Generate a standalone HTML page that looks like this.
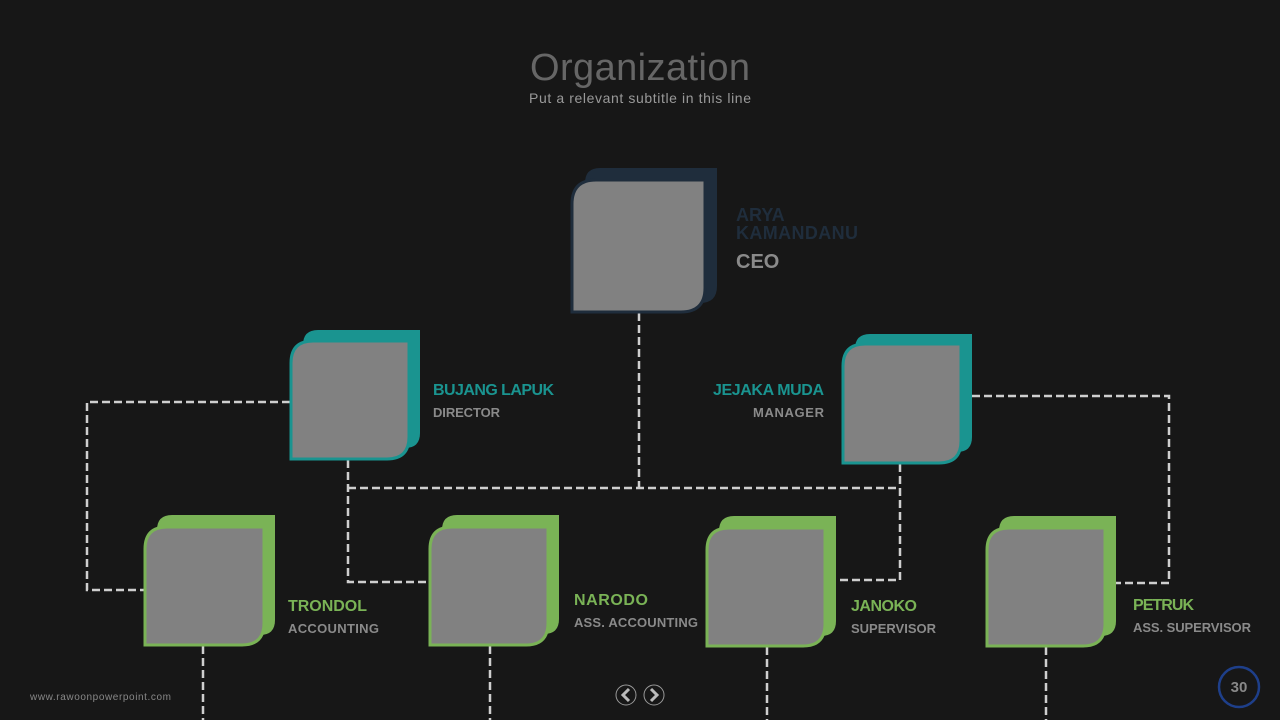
<!DOCTYPE html>
<html><head><style>html,body{margin:0;padding:0;background:#171717;}svg{display:block}</style></head><body>
<svg width="1280" height="720" viewBox="0 0 1280 720" xmlns="http://www.w3.org/2000/svg" font-family="Liberation Sans, sans-serif">
<rect width="1280" height="720" fill="#171717"/>
<text x="640" y="80" text-anchor="middle" font-size="38" fill="#666" textLength="220">Organization</text>
<text x="640" y="103" text-anchor="middle" font-size="14" fill="#999" textLength="222">Put a relevant subtitle in this line</text>
<g stroke="#cfcfcf" stroke-width="2.5" stroke-dasharray="8,4" fill="none">
<path d="M639 313V488M348 488H900M348 460V582H429M900 464V580H826"/>
<path d="M290 402H87V590H144M972 396H1169V583H1106"/>
<path d="M203 646V720M490 646V720M767 647V720M1046 647V720"/>
</g>
<g>
<path d="M600 168H717V286Q717 303 700 303H585V183Q585 168 600 168Z" fill="#1f2d3c"/>
<path d="M596 180H705V288Q705 312 681 312H572V204Q572 180 596 180Z" fill="#818181" stroke="#1f2d3c" stroke-width="3"/>
<path d="M318 330H420V433Q420 448 405 448H303V345Q303 330 318 330Z" fill="#1a9490"/>
<path d="M313 341H409V437Q409 459 387 459H291V363Q291 341 313 341Z" fill="#818181" stroke="#1a9490" stroke-width="3"/>
<path d="M870 334H972V437Q972 452 957 452H855V349Q855 334 870 334Z" fill="#1a9490"/>
<path d="M865 344H961V441Q961 463 939 463H843V366Q843 344 865 344Z" fill="#818181" stroke="#1a9490" stroke-width="3"/>
<path d="M172 515H275V620Q275 635 260 635H157V530Q157 515 172 515Z" fill="#7ab356"/>
<path d="M167 527H264V623Q264 645 242 645H145V549Q145 527 167 527Z" fill="#818181" stroke="#7ab356" stroke-width="3"/>
<path d="M457 515H559V619Q559 634 544 634H442V530Q442 515 457 515Z" fill="#7ab356"/>
<path d="M452 527H548V623Q548 645 526 645H430V549Q430 527 452 527Z" fill="#818181" stroke="#7ab356" stroke-width="3"/>
<path d="M734 516H836V621Q836 636 821 636H719V531Q719 516 734 516Z" fill="#7ab356"/>
<path d="M729 528H825V624Q825 646 803 646H707V550Q707 528 729 528Z" fill="#818181" stroke="#7ab356" stroke-width="3"/>
<path d="M1014 516H1116V621Q1116 636 1101 636H999V531Q999 516 1014 516Z" fill="#7ab356"/>
<path d="M1009 528H1105V624Q1105 646 1083 646H987V550Q987 528 1009 528Z" fill="#818181" stroke="#7ab356" stroke-width="3"/>
</g>
<g font-weight="bold">
<text x="736" y="221" font-size="18" fill="#1f2d3c">ARYA</text>
<text x="736" y="239" font-size="18" fill="#1f2d3c" textLength="122">KAMANDANU</text>
<text x="736" y="268" font-size="20" fill="#8a8a8a">CEO</text>
<text x="433" y="395" font-size="16" fill="#1a9490" textLength="121">BUJANG LAPUK</text>
<text x="433" y="417" font-size="13" fill="#8a8a8a" textLength="67">DIRECTOR</text>
<text x="713" y="395" font-size="16" fill="#1a9490" textLength="111">JEJAKA MUDA</text>
<text x="753" y="417" font-size="13" fill="#8a8a8a" textLength="71">MANAGER</text>
<text x="288" y="611" font-size="16" fill="#7ab356" textLength="79">TRONDOL</text>
<text x="288" y="633" font-size="13" fill="#8a8a8a" textLength="91">ACCOUNTING</text>
<text x="574" y="605" font-size="16" fill="#7ab356" textLength="74">NARODO</text>
<text x="574" y="627" font-size="13" fill="#8a8a8a" textLength="124">ASS. ACCOUNTING</text>
<text x="851" y="611" font-size="16" fill="#7ab356" textLength="66">JANOKO</text>
<text x="851" y="633" font-size="13" fill="#8a8a8a" textLength="85">SUPERVISOR</text>
<text x="1133" y="610" font-size="16" fill="#7ab356" textLength="61">PETRUK</text>
<text x="1133" y="632" font-size="13" fill="#8a8a8a" textLength="118">ASS. SUPERVISOR</text>
</g>
<text x="30" y="700" font-size="10" fill="#888" textLength="141">www.rawoonpowerpoint.com</text>
<circle cx="626" cy="695" r="10" fill="none" stroke="#999" stroke-width="1"/>
<circle cx="654" cy="695" r="10" fill="none" stroke="#999" stroke-width="1"/>
<path d="M629 689L623 695L629 701" fill="none" stroke="#bbb" stroke-width="3"/>
<path d="M651 689L657 695L651 701" fill="none" stroke="#bbb" stroke-width="3"/>
<circle cx="1239" cy="687" r="20" fill="none" stroke="#1e3f8a" stroke-width="2.5"/>
<text x="1239" y="692" text-anchor="middle" font-size="15" font-weight="bold" fill="#888">30</text>
</svg>
</body></html>
